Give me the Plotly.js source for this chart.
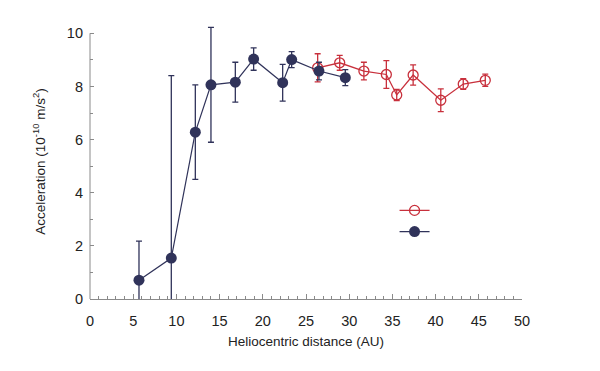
<!DOCTYPE html>
<html><head><meta charset="utf-8">
<script src="https://cdn.plot.ly/plotly-3.0.1.min.js"></script>
<style>html,body{margin:0;padding:0;background:#fff;}#chart{width:600px;height:371px;}</style>
</head><body><div id="chart"></div>
<script>
// Blue (filled) series
const blueX = [5.67, 9.41, 12.19, 14.0, 16.82, 18.94, 22.3, 23.34, 26.5, 29.55];
const blueY = [0.71, 1.54, 6.28, 8.06, 8.16, 9.03, 8.14, 9.01, 8.58, 8.33];
const blueErr = [1.47, 6.87, 1.78, 2.16, 0.75, 0.42, 0.69, 0.30, 0.33, 0.30];
// Red (open) series
const redX = [26.35, 28.9, 31.7, 34.3, 35.5, 37.4, 40.6, 43.2, 45.75];
const redY = [8.70, 8.89, 8.58, 8.45, 7.68, 8.43, 7.48, 8.09, 8.23];
const redErr = [0.53, 0.28, 0.33, 0.52, 0.21, 0.38, 0.43, 0.20, 0.23];
const xTicks = [0, 5, 10, 15, 20, 25, 30, 35, 40, 45, 50];
const yTicks = [0, 2, 4, 6, 8, 10];

const blue = '#30335a', red = '#c8303c', axisGray = '#8a8a8a';
const traces = [
  {x: redX, y: redY, name: ' ', type: 'scatter', mode: 'lines+markers', cliponaxis: false, legendrank: 1,
   line: {color: red, width: 1.3},
   marker: {symbol: 'circle-open', size: 10, color: red, line: {width: 1.3, color: red}},
   error_y: {type: 'data', array: redErr, visible: true, color: red, thickness: 1.3, width: 3}},
  {x: blueX, y: blueY, name: ' ', type: 'scatter', mode: 'lines+markers', cliponaxis: false, legendrank: 2,
   line: {color: blue, width: 1.2},
   marker: {symbol: 'circle', size: 11, color: blue},
   error_y: {type: 'data', array: blueErr, visible: true, color: blue, thickness: 1.3, width: 3}}
];
const layout = {
  width: 600, height: 371,
  margin: {l: 90, r: 78, t: 24, b: 72},
  paper_bgcolor: '#fff', plot_bgcolor: '#fff',
  font: {family: 'Liberation Sans, Arial, sans-serif', color: '#222'},
  showlegend: true,
  legend: {x: 0.705, y: 0.379, xanchor: 'left', yanchor: 'top', font: {size: 14}, bgcolor: 'rgba(0,0,0,0)', tracegroupgap: 0},
  shapes: [
    {type: 'line', xref: 'paper', x0: 0, x1: 0, yref: 'y', y0: 0, y1: 10, line: {color: axisGray, width: 1}}
  ],
  xaxis: {range: [0, 50], tickvals: xTicks, ticktext: xTicks.map(String), showgrid: false, zeroline: false,
    showline: true, linecolor: axisGray, linewidth: 1, ticks: 'inside', ticklen: 5, tickcolor: axisGray,
    minor: {dtick: 1, ticks: 'inside', ticklen: 3, tickcolor: axisGray},
    ticklabelstandoff: 9,
    tickfont: {size: 14.5}, title: {text: 'Heliocentric distance (AU)', font: {size: 13.5}, standoff: 8}},
  yaxis: {range: [0, 10.35], tickvals: yTicks, ticktext: yTicks.map(String), showgrid: false, zeroline: false,
    showline: false, ticks: 'inside', ticklen: 4, tickcolor: axisGray,
    minor: {dtick: 1, ticks: 'inside', ticklen: 3, tickcolor: axisGray},
    ticklabelstandoff: 6,
    tickfont: {size: 14.5}, title: {text: 'Acceleration (10<sup>-10</sup> m/s<sup>2</sup>)', font: {size: 13.5}, standoff: 18}}
};
Plotly.newPlot('chart', traces, layout, {displayModeBar: false, staticPlot: true});
</script></body></html>
